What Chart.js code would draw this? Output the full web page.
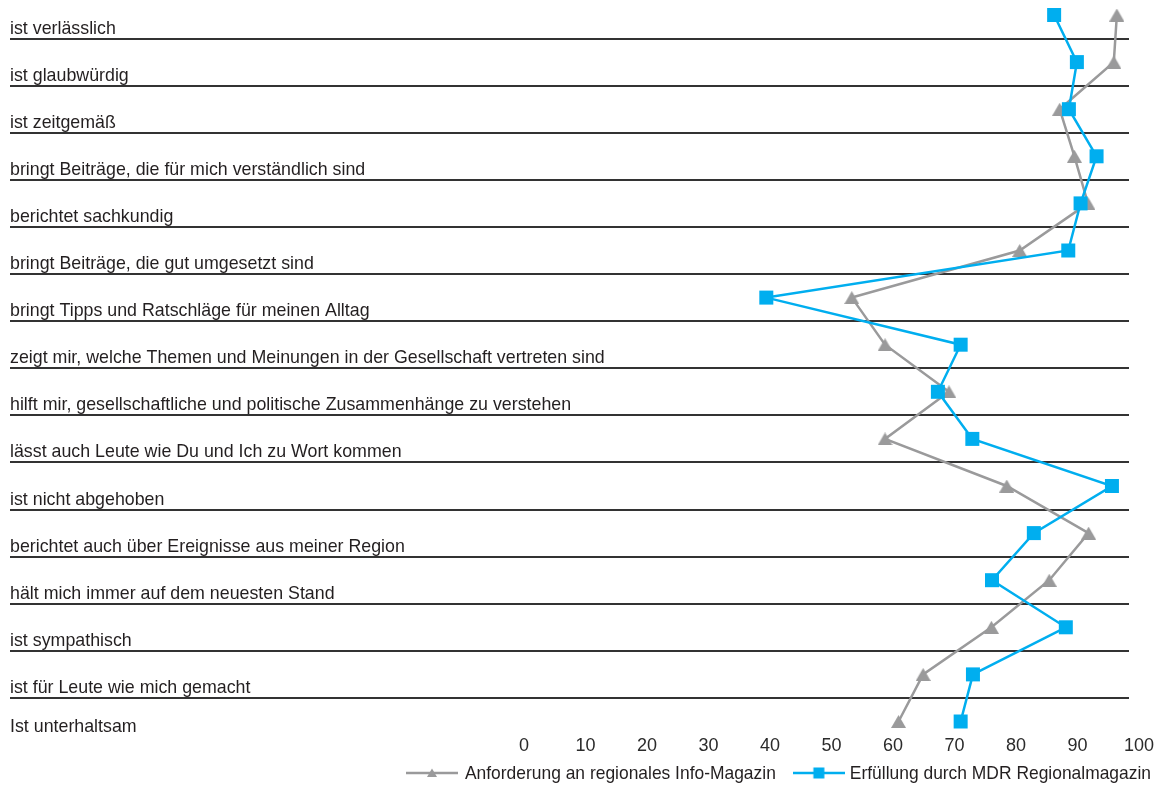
<!DOCTYPE html>
<html lang="de">
<head>
<meta charset="utf-8">
<title>Anforderung und Erfüllung</title>
<script src="https://cdn.jsdelivr.net/npm/chart.js@4.4.1/dist/chart.umd.min.js"></script>
<style>
  html, body { margin: 0; padding: 0; background: #ffffff; }
  #wrap { position: relative; width: 1171px; height: 793px; }
</style>
</head>
<body>
<div id="wrap"><canvas id="chart"></canvas></div>
<script>
// Statements rated, top to bottom
const categories = [
  'ist verlässlich',
  'ist glaubwürdig',
  'ist zeitgemäß',
  'bringt Beiträge, die für mich verständlich sind',
  'berichtet sachkundig',
  'bringt Beiträge, die gut umgesetzt sind',
  'bringt Tipps und Ratschläge für meinen Alltag',
  'zeigt mir, welche Themen und Meinungen in der Gesellschaft vertreten sind',
  'hilft mir, gesellschaftliche und politische Zusammenhänge zu verstehen',
  'lässt auch Leute wie Du und Ich zu Wort kommen',
  'ist nicht abgehoben',
  'berichtet auch über Ereignisse aus meiner Region',
  'hält mich immer auf dem neuesten Stand',
  'ist sympathisch',
  'ist für Leute wie mich gemacht',
  'Ist unterhaltsam'
];

// Anforderung an regionales Info-Magazin (%)
const anforderung = [96.4, 95.9, 87.1, 89.5, 91.7, 80.6, 53.3, 58.7, 69.1, 58.7, 78.5, 91.8, 85.4, 76.0, 64.9, 60.9];

// Erfüllung durch MDR Regionalmagazin (%)
const erfuellung = [86.2, 89.9, 88.6, 93.1, 90.5, 88.5, 39.4, 71.0, 67.3, 72.9, 95.6, 82.9, 76.1, 88.1, 73.0, 71.0];

const seriesNames = ['Anforderung an regionales Info-Magazin', 'Erfüllung durch MDR Regionalmagazin'];
const xTicks = [0, 10, 20, 30, 40, 50, 60, 70, 80, 90, 100];

const GRAY = '#9a9a9b';
const BLUE = '#00aeef';
const TEXT = '#231f20';
const RULE = '#333333';
const FONT = '"Liberation Sans", Arial, Helvetica, sans-serif';
const FONT_SIZE = 19;
const LEGEND_SIZE = 18.6;
const CONDENSE = 0.937;   // horizontal squeeze for the condensed look of the texts

// Triangle marker centred on its bounding box
function triangleMarker(w, h, color) {
  const c = document.createElement('canvas');
  c.width = w; c.height = h;
  const g = c.getContext('2d');
  g.fillStyle = color;
  g.beginPath();
  g.moveTo(w / 2, 0);
  g.lineTo(w, h);
  g.lineTo(0, h);
  g.closePath();
  g.fill();
  return c;
}

// Legend swatch: a short line with the series marker in the middle
function legendSwatch(color, marker) {
  const w = 52, h = 14;
  const c = document.createElement('canvas');
  c.width = w; c.height = h;
  const g = c.getContext('2d');
  g.strokeStyle = color;
  g.lineWidth = 2.5;
  g.beginPath();
  g.moveTo(0, h / 2);
  g.lineTo(w, h / 2);
  g.stroke();
  g.fillStyle = color;
  if (marker === 'triangle') {
    g.beginPath();
    g.moveTo(w / 2, h / 2 - 4.5);
    g.lineTo(w / 2 + 5, h / 2 + 4);
    g.lineTo(w / 2 - 5, h / 2 + 4);
    g.closePath();
    g.fill();
  } else {
    g.fillRect(w / 2 - 5.5, h / 2 - 5.5, 11, 11);
  }
  return c;
}

const triMark = triangleMarker(15, 13, GRAY);
const swatches = [legendSwatch(GRAY, 'triangle'), legendSwatch(BLUE, 'rect')];

// Draws text squeezed horizontally, anchored at its left end
function condensedText(ctx, text, x, y) {
  ctx.save();
  ctx.translate(x, y);
  ctx.scale(CONDENSE, 1);
  ctx.fillText(text, 0, 0);
  ctx.restore();
}

// Horizontal rules between the rows, drawn under the series
const rowRules = {
  id: 'rowRules',
  beforeDatasetsDraw(chart) {
    const { ctx, chartArea } = chart;
    const y = chart.scales.y;
    ctx.save();
    ctx.strokeStyle = RULE;
    ctx.lineWidth = 2;
    ctx.beginPath();
    for (let i = 0; i < categories.length - 1; i++) {
      const yy = Math.round((y.getPixelForValue(i) + y.getPixelForValue(i + 1)) / 2);
      ctx.moveTo(10, yy);
      ctx.lineTo(chartArea.right - 10, yy);
    }
    ctx.stroke();
    ctx.restore();
  }
};

// Statement texts at the left edge, each sitting on its rule
const rowLabels = {
  id: 'rowLabels',
  afterDatasetsDraw(chart) {
    const { ctx } = chart;
    const y = chart.scales.y;
    ctx.save();
    ctx.font = FONT_SIZE + 'px ' + FONT;
    ctx.fillStyle = TEXT;
    ctx.textAlign = 'left';
    ctx.textBaseline = 'alphabetic';
    const n = categories.length;
    categories.forEach((label, i) => {
      const p = y.getPixelForValue(i);
      const base = i < n - 1 ? (p + y.getPixelForValue(i + 1)) / 2 - 5 : p + 10;
      condensedText(ctx, label, 10, base);
    });
    ctx.restore();
  }
};

// Legend row, right-aligned under the axis
const lineLegend = {
  id: 'lineLegend',
  afterDraw(chart) {
    const { ctx } = chart;
    ctx.save();
    ctx.font = LEGEND_SIZE + 'px ' + FONT;
    ctx.fillStyle = TEXT;
    ctx.textAlign = 'left';
    ctx.textBaseline = 'alphabetic';
    const lineY = 773;
    const baseY = 779;
    let right = 1151;
    for (let i = seriesNames.length - 1; i >= 0; i--) {
      const w = ctx.measureText(seriesNames[i]).width * CONDENSE;
      const tx = right - w;
      condensedText(ctx, seriesNames[i], tx, baseY);
      const sw = swatches[i];
      const gap = i === 0 ? 7 : 5;
      ctx.drawImage(sw, tx - gap - sw.width, lineY - sw.height / 2);
      right = tx - gap - sw.width - 17;
    }
    ctx.restore();
  }
};

new Chart(document.getElementById('chart'), {
  type: 'line',
  data: {
    labels: categories,
    datasets: [
      {
        label: seriesNames[0],
        data: anforderung,
        borderColor: GRAY,
        backgroundColor: GRAY,
        borderWidth: 2.5,
        pointStyle: triMark,
        pointRadius: 8,
        pointBorderWidth: 0,
        tension: 0,
        clip: false,
        order: 1
      },
      {
        label: seriesNames[1],
        data: erfuellung,
        borderColor: BLUE,
        backgroundColor: BLUE,
        borderWidth: 2.5,
        pointStyle: 'rect',
        pointRadius: 9.9,
        pointBorderWidth: 0,
        tension: 0,
        clip: false,
        order: 0
      }
    ]
  },
  options: {
    indexAxis: 'y',
    responsive: true,
    maintainAspectRatio: false,
    animation: false,
    devicePixelRatio: 1,
    layout: { padding: { left: 524, right: 32, top: 15, bottom: 26.5 } },
    scales: {
      y: {
        type: 'category',
        display: false,
        offset: false
      },
      x: {
        type: 'linear',
        position: 'bottom',
        min: 0,
        max: 100,
        afterBuildTicks(scale) { scale.ticks = xTicks.map(v => ({ value: v })); },
        afterFit(scale) { scale.height = 45; },
        grid: { display: false, drawTicks: false },
        border: { display: false },
        ticks: {
          padding: 14,
          color: '#2b2b2b',
          font: { family: FONT, size: 18 },
          maxRotation: 0
        }
      }
    },
    plugins: {
      legend: { display: false },
      tooltip: { enabled: false }
    }
  },
  plugins: [rowRules, rowLabels, lineLegend]
});
</script>
</body>
</html>
